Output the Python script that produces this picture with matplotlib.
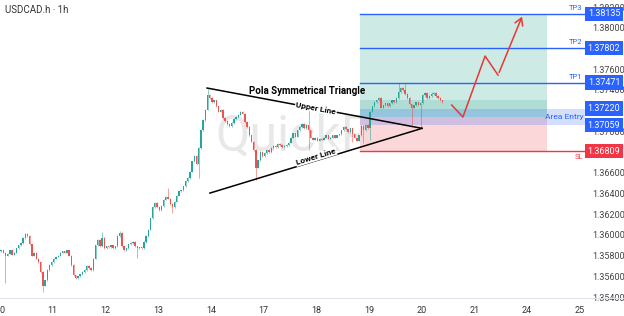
import matplotlib.pyplot as plt
import matplotlib.transforms as mtransforms
from matplotlib.patches import Rectangle
import numpy as np

plt.rcParams['font.family'] = ['Roboto', 'DejaVu Sans']

# hourly closes (open = previous close)
first_open = 1.3584
closes = [
    1.3585, 1.3583, 1.3580, 1.3582, 1.3585, 1.3581, 1.3583, 1.3587, 1.3590, 1.3592,
    1.3597, 1.3601, 1.3599, 1.3591, 1.3580, 1.3583, 1.3577, 1.3574, 1.3564, 1.3551,
    1.3556, 1.3566, 1.3571, 1.3574, 1.3577, 1.3579, 1.3580, 1.3583, 1.3584, 1.3583,
    1.3585, 1.3580, 1.3571, 1.3561, 1.3558, 1.3560, 1.3562, 1.3564, 1.3566, 1.3570,
    1.3568, 1.3566, 1.3577, 1.3590, 1.3595, 1.3589, 1.3597, 1.3587, 1.3589, 1.3588,
    1.3590, 1.3587, 1.3589, 1.3599, 1.3602, 1.3589, 1.3585, 1.3587, 1.3591, 1.3592,
    1.3593, 1.3589, 1.3587, 1.3588, 1.3587, 1.3593, 1.3599, 1.3605, 1.3616, 1.3627,
    1.3631, 1.3627, 1.3624, 1.3628, 1.3634, 1.3637, 1.3635, 1.3630, 1.3627, 1.3632,
    1.3638, 1.3642, 1.3643, 1.3647, 1.3652, 1.3655, 1.3661, 1.3671, 1.3676, 1.3668,
    1.3684, 1.3701, 1.3711, 1.3721, 1.3735, 1.3732, 1.3728, 1.3730, 1.3724, 1.3719,
    1.3721, 1.3713, 1.3710, 1.3707, 1.3705, 1.3708, 1.3712, 1.3714, 1.3716, 1.3719,
    1.3717, 1.3709, 1.3704, 1.3696, 1.3690, 1.3682, 1.3665, 1.3672, 1.3680, 1.3676,
    1.3679, 1.3682, 1.3680, 1.3684, 1.3686, 1.3685, 1.3688, 1.3687, 1.3685, 1.3686,
    1.3687, 1.3689, 1.3694, 1.3698, 1.3695, 1.3701, 1.3704, 1.3707, 1.3703, 1.3706,
    1.3701, 1.3694, 1.3692, 1.3694, 1.3691, 1.3693, 1.3692, 1.3694, 1.3696, 1.3693,
    1.3694, 1.3696, 1.3694, 1.3696, 1.3697, 1.3701, 1.3704, 1.3702, 1.3699, 1.3703,
    1.3697, 1.3694, 1.3691, 1.3696, 1.3705, 1.3701, 1.3706, 1.3703, 1.3719, 1.3724,
    1.3728, 1.3730, 1.3732, 1.3723, 1.3725, 1.3727, 1.3724, 1.3727, 1.3730, 1.3728,
    1.3732, 1.3738, 1.3742, 1.3740, 1.3736, 1.3732, 1.3726, 1.3723, 1.3725, 1.3728,
    1.3725, 1.3727, 1.3735, 1.3737, 1.3732, 1.3734, 1.3736, 1.3737, 1.3734, 1.3732,
    1.3730, 1.3728,
]
# the longer wicks that stand out
wick_high = {46: 1.3603, 54: 1.3604, 76: 1.3645, 94: 1.3741, 140: 1.3721,
             181: 1.3747, 184: 1.3747, 196: 1.3738}
wick_low = {2: 1.3554, 19: 1.3545, 62: 1.3578, 78: 1.3621, 90: 1.3655,
            116: 1.3653, 140: 1.3682, 160: 1.3690, 165: 1.3689, 168: 1.3692,
            187: 1.3704, 191: 1.3704}

day_labels = ['10', '11', '12', '13', '14', '17', '18', '19', '20', '21', '24', '25']
# scale labels that are not hidden behind the level badges
price_ticks = [1.354, 1.356, 1.358, 1.360, 1.362, 1.364, 1.366,
               1.370, 1.374, 1.376, 1.380, 1.382]

tp_levels = [1.37471, 1.37802, 1.38135]
tp_names = ['TP1', 'TP2', 'TP3']
entry_hi, entry_lo = 1.37220, 1.37059
entry_price = 1.3714
sl_level = 1.36809

# triangle + projected path (bar index, price)
upper_line = ([93.8, 191.7], [1.37418, 1.37029])
lower_line = ([95.1, 191.7], [1.36404, 1.37029])
path_x = [205.2, 210.3, 220.4, 226.3, 237.7]
path_y = [1.37254, 1.37138, 1.37727, 1.37543, 1.38132]

green = '#26a69a'
red = '#ef5350'
blue = '#2962ff'
slred = '#f23645'

fig = plt.figure(figsize=(6.24, 3.16), dpi=100)
ax = fig.add_axes([0, 18 / 316, 585 / 624, 298 / 316])
ax.set_xlim(-0.5, 265.9)
ax.set_ylim(1.35391, 1.38268)

closes = np.array(closes)
opens = np.concatenate([[first_open], closes[:-1]])
idx = np.arange(len(closes))
pad = 0.00007
highs = np.maximum(opens, closes) + pad
lows = np.minimum(opens, closes) - pad
for k, v in wick_high.items():
    highs[k] = v
for k, v in wick_low.items():
    lows[k] = v
cols = np.where(closes >= opens, green, red)
body_lo = np.minimum(opens, closes)
body_h = np.maximum(np.abs(closes - opens), 0.00003)

ax.vlines(idx, lows, highs, colors=cols, lw=0.7, alpha=0.55, zorder=3)
ax.bar(idx, body_h, bottom=body_lo, width=0.62, color=cols, lw=0, zorder=3)

# watermark
ax.text(97.4, 1.3682, 'QuickPro', fontsize=36, color='#e8e8e8', zorder=1,
        ha='left', va='baseline')

# position zones
bx0, bx1 = 163.4, 248.6
xr = ax.get_xlim()[1]
ax.add_patch(Rectangle((bx0, entry_price), bx1 - bx0, tp_levels[2] - entry_price,
                       fc='#cdeae5', ec='none', zorder=1.5))
ax.add_patch(Rectangle((bx0, sl_level), bx1 - bx0, entry_price - sl_level,
                       fc='#fcd7da', ec='none', zorder=1.5))
ax.add_patch(Rectangle((bx0, entry_price), bx1 - bx0, 1.3730 - entry_price,
                       fc='#089981', alpha=0.15, ec='none', zorder=1.6))
ax.add_patch(Rectangle((bx0, entry_lo), xr - bx0, entry_hi - entry_lo,
                       fc=blue, alpha=0.2, ec='none', zorder=1.7))
ax.text(xr - 0.5, (entry_hi + entry_lo) / 2, 'Area Entry', color=blue,
        fontsize=6, ha='right', va='center', zorder=5)

for lvl, name in zip(tp_levels, tp_names):
    ax.plot([bx0, xr], [lvl, lvl], color=blue, lw=1, zorder=4)
    ax.text(xr - 1, lvl + 0.00028, name, color=blue, fontsize=5.5,
            ha='right', va='bottom')
ax.plot([bx0, xr], [sl_level, sl_level], color=slred, lw=1, zorder=4)
ax.text(xr - 1, sl_level - 0.0003, 'SL', color=slred, fontsize=5.5,
        ha='right', va='top')

# triangle
ax.plot(*upper_line, color='black', lw=1.1, zorder=4)
ax.plot(*lower_line, color='black', lw=1.1, zorder=4)
ax.text(139.3, 1.37389, 'Pola Symmetrical Triangle', fontsize=7, weight='bold',
        ha='center', va='center', zorder=6)
ax.text(143.4, 1.37225, 'Upper Line', fontsize=6, weight='bold', rotation=-10.5,
        ha='center', va='center', rotation_mode='anchor', zorder=6,
        bbox=dict(boxstyle='square,pad=0.1', fc='white', ec='none'))
ax.text(143.4, 1.36756, 'Lower Line', fontsize=6, weight='bold', rotation=17,
        ha='center', va='center', rotation_mode='anchor', zorder=6,
        bbox=dict(boxstyle='square,pad=0.1', fc='white', ec='none'))

# projected move
ax.plot(path_x[:-1], path_y[:-1], color='#e53935', lw=1.1, zorder=5)
ax.annotate('', xy=(path_x[-1], path_y[-1]), xytext=(path_x[-2], path_y[-2]),
            arrowprops=dict(arrowstyle='->,head_length=0.5,head_width=0.3',
                            color='#e53935', lw=1.1), zorder=5)

# axes styling
for s in ['top', 'left', 'right', 'bottom']:
    ax.spines[s].set_visible(False)
ax.set_xticks([-0.5 + 24 * k for k in range(len(day_labels))])
ax.set_xticklabels(day_labels)
ax.tick_params(axis='x', length=0, labelsize=6.5, labelcolor='#333', pad=6)
ax.yaxis.tick_right()
ax.set_yticks(price_ticks)
ax.set_yticklabels([f'{p:.5f}' for p in price_ticks])
ax.tick_params(axis='y', length=0, labelsize=6.5, labelcolor='#444', pad=5)
fig.add_artist(plt.Line2D([0, 1], [18 / 316, 18 / 316], color='#e0e3eb', lw=0.8))

# price scale badges
trans = mtransforms.blended_transform_factory(fig.transFigure, ax.transData)
badges = [(tp_levels[2], blue), (tp_levels[1], blue), (tp_levels[0], blue),
          (entry_hi, blue), (entry_lo, blue), (sl_level, slred)]
for p, c in badges:
    fig.text(604 / 624, p, f'{p:.5f}', transform=trans, fontsize=6.5, color='white',
             ha='center', va='center', zorder=10,
             bbox=dict(boxstyle='square,pad=0.3', fc=c, ec='none'))

fig.text(5 / 624, 1 - 10 / 316, 'USDCAD.h · 1h', fontsize=7, color='#333',
         va='center')

fig.savefig('out.png', dpi=100)
